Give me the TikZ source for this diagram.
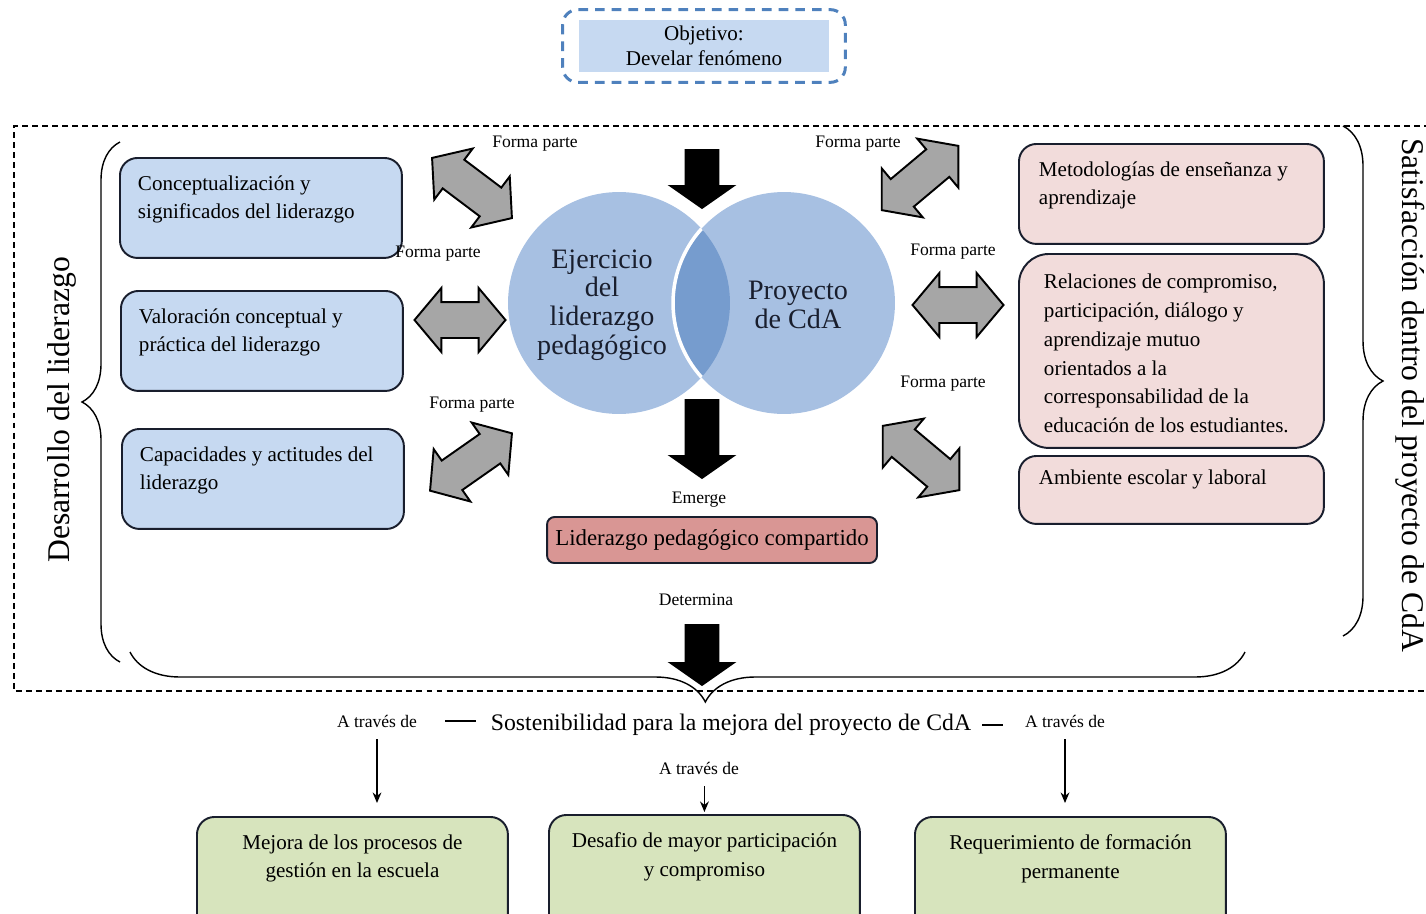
\documentclass[tikz,border=0pt]{standalone}
\usepackage{fontspec}
\setmainfont{Liberation Serif}
\usetikzlibrary{arrows.meta,shapes.arrows,decorations.pathreplacing}
\definecolor{boxblue}{RGB}{198,217,241}
\definecolor{boxpink}{RGB}{242,220,219}
\definecolor{boxred}{RGB}{217,150,148}
\definecolor{boxgreen}{RGB}{215,228,189}
\definecolor{circblue}{RGB}{167,192,226}
\definecolor{overlapblue}{RGB}{118,156,206}
\definecolor{frameblue}{RGB}{79,129,189}
\definecolor{edgeink}{RGB}{25,30,45}
\def\boxtext#1#2#3{\parbox[t][#2][t]{#1}{#3}}
\tikzset{
	roundbox/.style={draw=edgeink, line width=1.1pt, rounded corners=0.35cm, inner xsep=0.36cm, inner ysep=0.35cm, anchor=north west, font=\fontsize{12}{16.4}\selectfont},
	bluebox/.style={roundbox, fill=boxblue},
	pinkbox/.style={roundbox, fill=boxpink},
	greenbox/.style={roundbox, fill=boxgreen},
	smalllabel/.style={font=\fontsize{10}{12}\selectfont, inner sep=1pt},
	bigtext/.style={font=\fontsize{18}{20}\selectfont, inner sep=1pt},
	circtext/.style={font=\fontsize{16}{16.4}\selectfont, align=center, text=edgeink, inner sep=0pt},
	grayarrow/.style={double arrow, draw=black, line width=1.1pt, fill=black!35, minimum height=2cm, minimum width=1.24cm, double arrow head extend=0.28cm, double arrow tip angle=100, inner xsep=0pt, inner ysep=0.34cm},
	blackarrow/.style={single arrow, fill=black, minimum width=1.36cm, single arrow head extend=0.34cm, single arrow tip angle=110, rotate=-90, inner xsep=0pt, inner ysep=0.34cm},
	bracepath/.style={decorate, decoration={brace, amplitude=#1}, line width=0.8pt},
	thinarrow/.style={-{Stealth[length=6pt,width=5pt]}, line width=0.9pt},
}

\begin{document}
\begin{tikzpicture}[x=0.02cm, y=-0.02cm]
		%%%%% START %%%%%
		\useasboundingbox (0,0) rectangle (1426,913);
		
		\node[fill=boxblue, minimum width=5cm, minimum height=1.04cm, align=center, font=\fontsize{12}{14}\selectfont] (obj) at (704,46) {Objetivo:\\Develar fenómeno};
		\draw[draw=frameblue, line width=1.7pt, dash pattern=on 5.5pt off 4pt, rounded corners=0.3cm] ([shift={(-16,-10)}]obj.north west) rectangle ([shift={(16,10)}]obj.south east);
		
		\draw[line width=0.9pt, dash pattern=on 3.4pt off 2.3pt] (1440,126) -- (14,126) -- (14,691) -- (1440,691);
		
		\node[bigtext, rotate=90] (desl) at (62,410) {Desarrollo del liderazgo};
		\node[bigtext, rotate=-90] (satp) at (1410,395) {Satisfacción dentro del proyecto de CdA};
		\draw[bracepath=0.76cm] (120,662) -- (120,142);
		\draw[bracepath=0.8cm] (1343,126) -- (1343,636);
		\draw[bracepath=1cm, decoration={aspect=0.484}] (1245,652) -- (130,652);
		
		\node[bluebox] (lb1) at (119,157) {\boxtext{4.92cm}{1.3cm}{Conceptualización y\\significados del liderazgo}};
		\node[bluebox] (lb2) at (120,290) {\boxtext{4.92cm}{1.3cm}{Valoración conceptual y\\práctica del liderazgo}};
		\node[bluebox] (lb3) at (121,428) {\boxtext{4.92cm}{1.3cm}{Capacidades y actitudes del\\liderazgo}};
		
		\node[pinkbox, inner xsep=0.4cm] (rb1) at (1018,143) {\boxtext{5.3cm}{1.3cm}{Metodologías de enseñanza y\\aprendizaje}};
		\node[pinkbox, inner xsep=0.5cm, inner ysep=0.4cm, rounded corners=0.6cm] (rb2) at (1018,253) {\boxtext{5.1cm}{3.08cm}{Relaciones de compromiso,\\participación, diálogo y\\aprendizaje mutuo\\orientados a la\\corresponsabilidad de la\\educación de los estudiantes.}};
		\node[pinkbox, inner xsep=0.4cm, inner ysep=0.28cm] (rb3) at (1018,455) {\boxtext{5.3cm}{0.8cm}{Ambiente escolar y laboral}};
		
		\node[circle, fill=circblue, minimum size=4.44cm, inner sep=0pt] (ej) at (619,303) {};
		\node[circle, fill=circblue, minimum size=4.44cm, inner sep=0pt] (py) at (784,303) {};
		\begin{scope}
			\clip (ej.center) circle (2.22cm);
			\fill[overlapblue] (py.center) circle (2.22cm);
			\draw[white, line width=2pt] (py.center) circle (2.22cm);
		\end{scope}
		\node[circtext] (ejtxt) at (602,305) {Ejercicio\\del\\liderazgo\\pedagógico};
		\node[circtext] (pytxt) at (798,305) {Proyecto\\de CdA};
		
		\node[blackarrow, minimum height=1.2cm] (down1) at (702,173) {};
		\node[blackarrow, minimum height=1.6cm] (down2) at (702,433) {};
		\node[blackarrow, minimum height=1.24cm] (down3) at (702,649) {};
		
		\node[grayarrow, rotate=-37] (fp1) at (472,188) {};
		\node[grayarrow, minimum height=1.82cm] (fp2) at (460,320) {};
		\node[grayarrow, rotate=35] (fp3) at (471,462) {};
		\node[grayarrow, rotate=40] (fp4) at (920,178) {};
		\node[grayarrow, minimum height=1.82cm] (fp5) at (958,305) {};
		\node[grayarrow, rotate=-40] (fp6) at (921,458) {};
		
		\node[smalllabel] (fpl1) at (535,144) {Forma parte};
		\node[smalllabel] (fpl2) at (438,254) {Forma parte};
		\node[smalllabel] (fpl3) at (472,405) {Forma parte};
		\node[smalllabel] (fpl4) at (858,144) {Forma parte};
		\node[smalllabel] (fpl5) at (953,252) {Forma parte};
		\node[smalllabel] (fpl6) at (943,384) {Forma parte};
		\node[smalllabel] (emer) at (699,500) {Emerge};
		\node[smalllabel] (deter) at (696,600) {Determina};
		
		\node[draw=edgeink, line width=1.1pt, fill=boxred, rounded corners=0.15cm, minimum width=6.6cm, minimum height=0.92cm, font=\fontsize{13}{15}\selectfont] (lpc) at (712,540) {Liderazgo pedagógico compartido};
		
		\node[font=\fontsize{13.5}{16}\selectfont, inner sep=1pt] (sost) at (731,725) {Sostenibilidad para la mejora del proyecto de CdA};
		\node[smalllabel] (atl) at (377,721) {A través de};
		\node[smalllabel] (atr) at (1065,721) {A través de};
		\node[smalllabel] (atm) at (699,768) {A través de};
		\draw[line width=1.6pt, shorten <=0.52cm, shorten >=0.26cm] (atl.east) -- (atl.east -| sost.west);
		\draw[line width=1.6pt, shorten <=0.18cm, shorten >=0.4cm] (sost.east) -- (sost.east -| atr.west);
		
		\node[greenbox, align=center] (g1) at (196,816) {\boxtext{5.5cm}{1.9cm}{\centering Mejora de los procesos de\\gestión en la escuela}};
		\node[greenbox, align=center] (g2) at (548,814) {\boxtext{5.5cm}{1.9cm}{\centering Desafio de mayor participación\\y compromiso}};
		\node[greenbox, align=center] (g3) at (914,816) {\boxtext{5.5cm}{1.9cm}{\centering Requerimiento de formación\\permanente}};
		
		\draw[thinarrow, shorten <=0.2cm, shorten >=0.26cm] (atl.south) -- (atl.south |- g1.north);
		\draw[thinarrow, shorten <=0.2cm, shorten >=0.04cm] (atm.south -| g2.north) -- (g2.north);
		\draw[thinarrow, shorten <=0.2cm, shorten >=0.26cm] (atr.south) -- (atr.south |- g3.north);
		
		%%%%% END %%%%%
	\end{tikzpicture}
\end{document}
